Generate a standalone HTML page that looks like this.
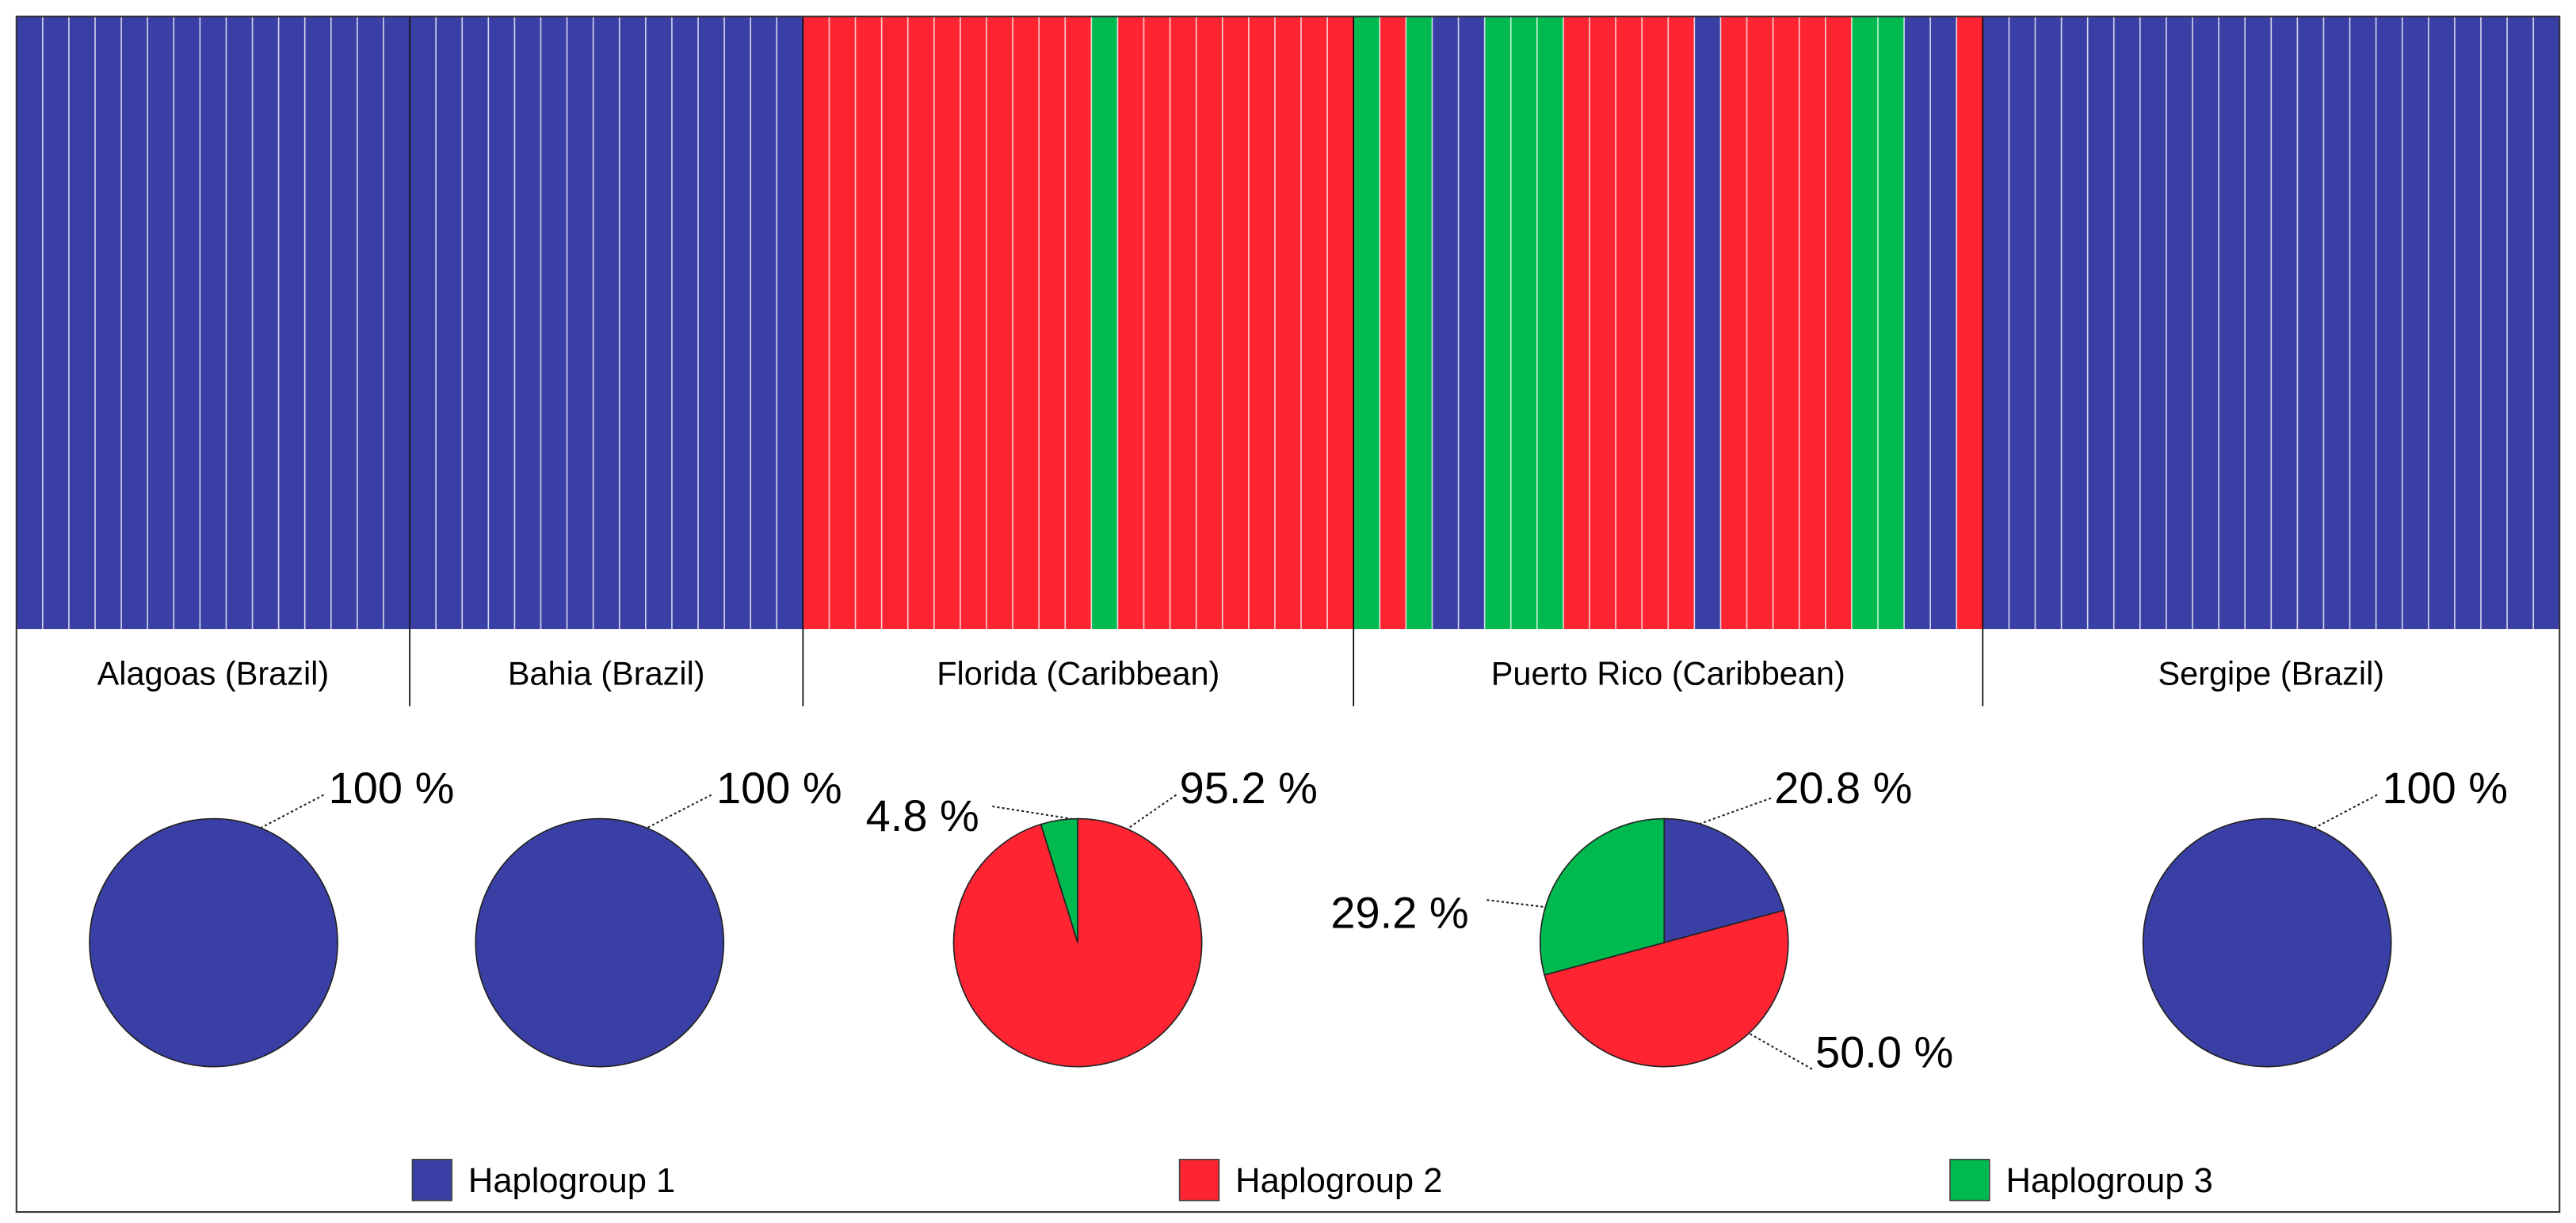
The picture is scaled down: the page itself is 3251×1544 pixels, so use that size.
<!DOCTYPE html>
<html><head><meta charset="utf-8"><style>
html,body{margin:0;padding:0;background:#fff;}
svg{display:block;}
text{font-family:"Liberation Sans",sans-serif;fill:#000;}
</style></head><body>
<svg id="chart" width="3251" height="1544" viewBox="0 0 1568 744.7" xmlns="http://www.w3.org/2000/svg">
<g id="bars"></g>
<g id="labels"></g>
<g id="pies"></g>
<g id="legend"></g>
<rect x="10" y="10" width="1548" height="728" fill="none" stroke="#333" stroke-width="1"/>
</svg>
<script>
const populations = ["Alagoas (Brazil)","Bahia (Brazil)","Florida (Caribbean)","Puerto Rico (Caribbean)","Sergipe (Brazil)"];
// haplogroup per sample, per population (1,2,3)
const samplesAlagoas = Array(15).fill(1);
const samplesBahia = Array(15).fill(1);
const samplesFlorida = [2,2,2,2,2,2,2,2,2,2,2,3,2,2,2,2,2,2,2,2,2];
const samplesPuertoRico = [3,2,3,1,1,3,3,3,2,2,2,2,2,1,2,2,2,2,2,3,3,1,1,2];
const samplesSergipe = Array(22).fill(1);
// pie percentages: [hg1, hg2, hg3]
const pieAlagoas = [100,0,0];
const pieBahia = [100,0,0];
const pieFlorida = [0,95.2,4.8];
const piePuertoRico = [20.8,50.0,29.2];
const pieSergipe = [100,0,0];
const legendLabels = ["Haplogroup 1","Haplogroup 2","Haplogroup 3"];

const colors = {1:"#3A3FA6",2:"#FF2432",3:"#00BA50"};
const NS="http://www.w3.org/2000/svg";
function mk(tag,attrs,parent){const e=document.createElementNS(NS,tag);for(const k in attrs)e.setAttribute(k,attrs[k]);parent.appendChild(e);return e;}

const groups=[samplesAlagoas,samplesBahia,samplesFlorida,samplesPuertoRico,samplesSergipe];
const pies=[pieAlagoas,pieBahia,pieFlorida,piePuertoRico,pieSergipe];
const total=groups.reduce((a,g)=>a+g.length,0);
const X0=10,X1=1558,Y0=10,Y1=383;
const bw=(X1-X0)/total;
const xs=i=>X0+i*bw;
const gBars=document.getElementById('bars'),gLab=document.getElementById('labels'),gPie=document.getElementById('pies'),gLeg=document.getElementById('legend');
let idx=0;const bounds=[];
groups.forEach((g,gi)=>{
  const start=idx;
  g.forEach(v=>{
    const r=mk('rect',{x:xs(idx),y:Y0,width:bw,height:Y1-Y0,fill:colors[v]},gBars);
    
    
    if(idx>0){const l=mk('line',{x1:xs(idx),x2:xs(idx),y1:Y0,y2:Y1,stroke:'rgba(255,255,255,0.75)','stroke-width':0.8},gBars);
      
      }
    idx++;
  });
  bounds.push([xs(start),xs(idx)]);
});
bounds.forEach((b,i)=>{
  if(i>0){const l=mk('line',{x1:b[0],x2:b[0],y1:Y0,y2:430,stroke:'#000','stroke-width':0.8},gLab);
    
    }
  const t=mk('text',{x:(b[0]+b[1])/2,y:417,'font-size':20,'text-anchor':'middle'},gLab);
  t.textContent=populations[i];
  
  
});
// pies
const pieCx=[130,365,656,1013,1380],pieCy=574,R=75.5;
// label placement per slice: [textX, textY, leaderStartX, leaderStartY, leaderEndAngle(rad)]
const labelPos=[
 [[200,489,197,484,0.39]],
 [[436,489,433,484,0.39]],
 [null,[718,489,716,484,0.41],[527,506,604,491,-0.05]],
 [[1080,489,1078,486,0.29],[1105,650,1103,651,2.39],[810,565,905,548,-1.28]],
 [[1450,489,1447,484,0.39]]
];
pies.forEach((p,pi)=>{
  const cx=pieCx[pi];let a0=0;
  const nz=p.filter(v=>v>0).length;
  p.forEach((v,si)=>{
    if(v<=0)return;
    const frac=v/100;const a1=a0+frac*2*Math.PI;
    let el;
    if(nz===1){el=mk('circle',{cx:cx,cy:pieCy,r:R,fill:colors[si+1],stroke:'#222','stroke-width':0.8},gPie);}
    else{
      const x0=cx+R*Math.sin(a0),y0=pieCy-R*Math.cos(a0),x1=cx+R*Math.sin(a1),y1=pieCy-R*Math.cos(a1);
      el=mk('path',{d:`M${cx},${pieCy}L${x0},${y0}A${R},${R} 0 ${frac>0.5?1:0} 1 ${x1},${y1}Z`,fill:colors[si+1],stroke:'#222','stroke-width':0.8},gPie);
    }
    
    
    const lp=nz===1?labelPos[pi][0]:labelPos[pi][si];
    if(lp){
      const ex=cx+R*Math.sin(lp[4]),ey=pieCy-R*Math.cos(lp[4]);
      const ln=mk('line',{x1:lp[2],y1:lp[3],x2:ex,y2:ey,stroke:'#222','stroke-width':1,'stroke-dasharray':'1.5,1.5'},gPie);
      
      
      const t=mk('text',{x:lp[0],y:lp[1],'font-size':27},gPie);
      t.textContent=(v===100?'100':v.toFixed(1))+' %';
      
      
    }
    a0=a1;
  });
});
// legend
const legX=[251,718,1187];
legendLabels.forEach((l,i)=>{
  const r=mk('rect',{x:legX[i],y:706,width:24,height:25,fill:colors[i+1],stroke:'#444','stroke-width':0.8},gLeg);
  
  
  const t=mk('text',{x:legX[i]+34,y:726,'font-size':21},gLeg);
  t.textContent=l;
  
  
});
</script>
</body></html>
